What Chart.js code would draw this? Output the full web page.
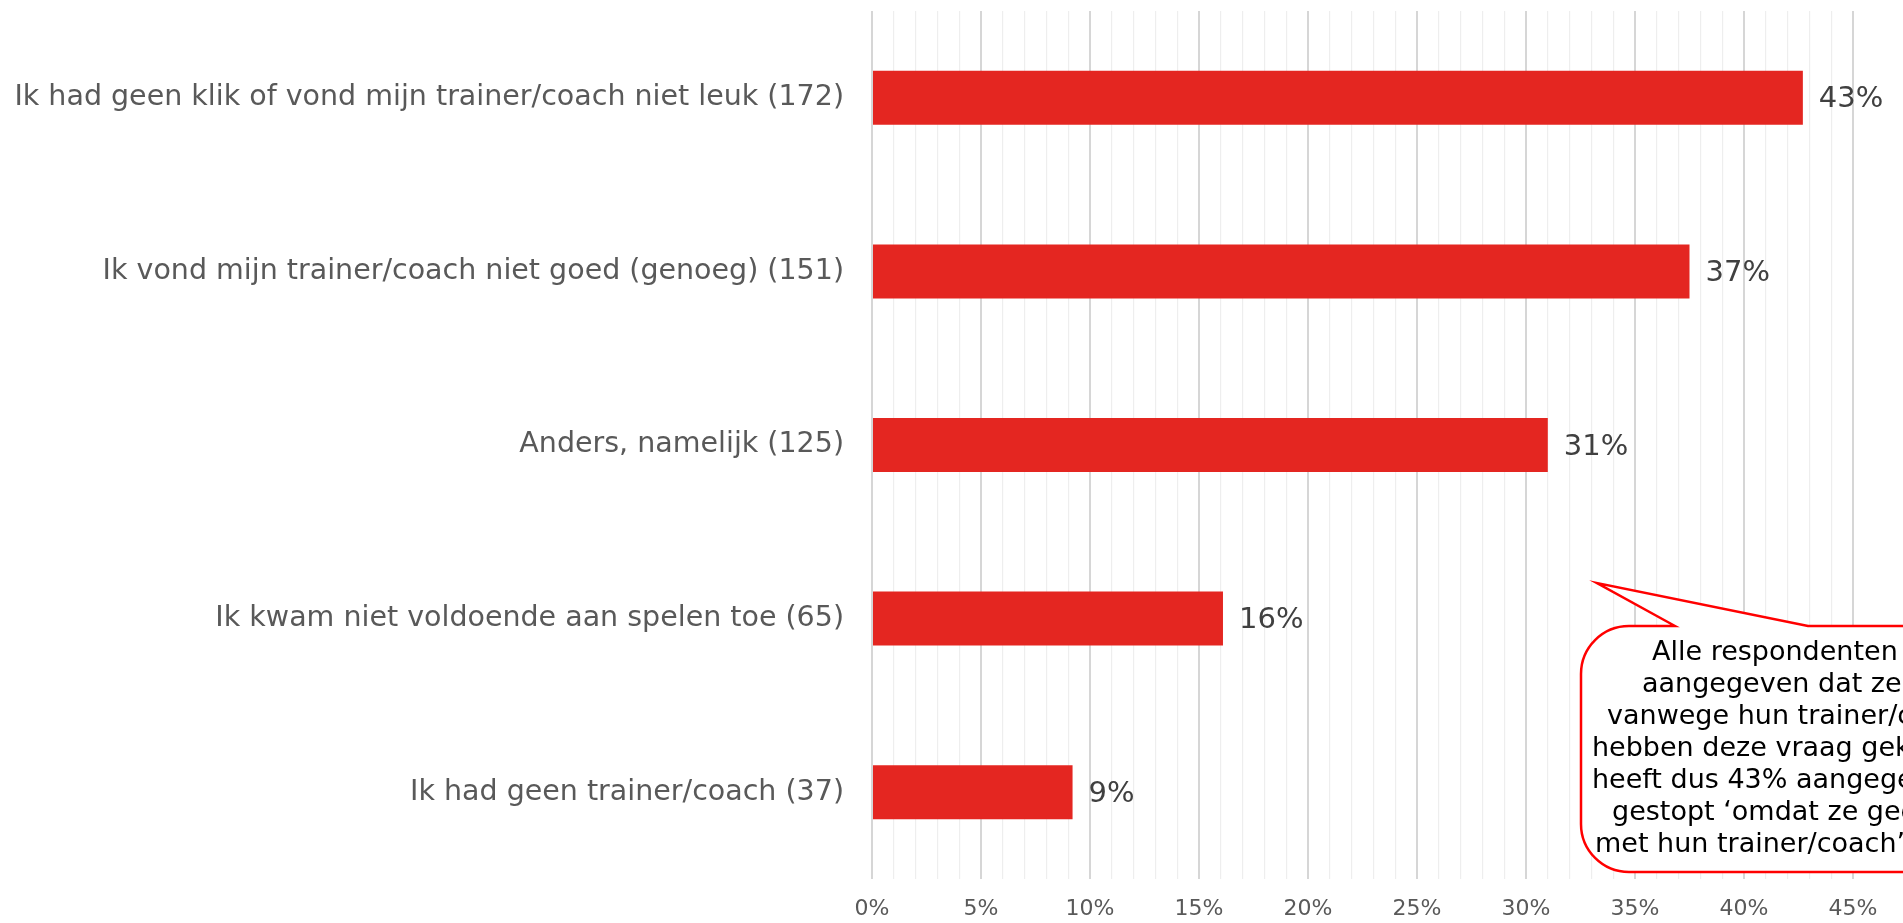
<!DOCTYPE html>
<html>
<head>
<meta charset="utf-8">
<title>Redenen om te stoppen</title>
<script src="https://cdn.jsdelivr.net/npm/chart.js"></script>
<style>
  html, body { margin: 0; padding: 0; background: #fff; }
  #wrap { width: 1903px; height: 923px; }
</style>
</head>
<body>
<div id="wrap"><canvas id="reasonsChart" width="1903" height="923"></canvas></div>
<script>
var categories = [
    "Ik had geen klik of vond mijn trainer/coach niet leuk (172)",
    "Ik vond mijn trainer/coach niet goed (genoeg) (151)",
    "Anders, namelijk (125)",
    "Ik kwam niet voldoende aan spelen toe (65)",
    "Ik had geen trainer/coach (37)"
];
var percentages = [42.7, 37.5, 31.0, 16.1, 9.2];
var valueLabels = ["43%", "37%", "31%", "16%", "9%"];
var xTickLabels = ["0%", "5%", "10%", "15%", "20%", "25%", "30%", "35%", "40%", "45%"];
var calloutLines = [
    "Alle respondenten die hebben",
    "aangegeven dat ze zijn gestopt",
    "vanwege hun trainer/coach",
    "hebben deze vraag gekregen. Er",
    "heeft dus 43% aangegeven te zijn",
    "gestopt \u2018omdat ze geen klik hadden",
    "met hun trainer/coach\u2019."
];

var FONT = '"DejaVu Sans", Verdana, sans-serif';

// percentage next to each bar
var valueLabelPlugin = {
    id: 'valueLabels',
    afterDatasetsDraw: function(chart) {
        var ctx = chart.ctx;
        var meta = chart.getDatasetMeta(0);
        ctx.save();
        ctx.font = '29px ' + FONT;
        ctx.fillStyle = '#404040';
        ctx.textAlign = 'left';
        ctx.textBaseline = 'middle';
        meta.data.forEach(function(bar, i) {
            ctx.fillText(valueLabels[i], bar.x + 16, bar.y + 2);
        });
        ctx.restore();
    }
};

// red speech bubble, runs off the right edge like the original
var calloutPlugin = {
    id: 'callout',
    afterDraw: function(chart) {
        var ctx = chart.ctx;
        var left = 1581, top = 626, bottom = 872, right = chart.width + 60, r = 48;
        ctx.save();
        ctx.beginPath();
        ctx.moveTo(1675, top);
        ctx.lineTo(1597, 583);
        ctx.lineTo(1808, top);
        ctx.lineTo(right, top);
        ctx.lineTo(right, bottom);
        ctx.lineTo(left + r, bottom);
        ctx.arcTo(left, bottom, left, bottom - r, r);
        ctx.lineTo(left, top + r);
        ctx.arcTo(left, top, left + r, top, r);
        ctx.closePath();
        ctx.fillStyle = '#ffffff';
        ctx.fill();
        ctx.lineWidth = 2.5;
        ctx.strokeStyle = '#ff0000';
        ctx.stroke();

        var offsets = [71, 61, 26, 11, 11, 31, 14];
        ctx.font = '27px ' + FONT;
        ctx.fillStyle = '#000000';
        ctx.textAlign = 'left';
        ctx.textBaseline = 'alphabetic';
        for (var i = 0; i < calloutLines.length; i++) {
            ctx.fillText(calloutLines[i], left + offsets[i], 660 + i * 32);
        }
        ctx.restore();
    }
};

var ctx = document.getElementById('reasonsChart');
var reasonsChart = new Chart(ctx, {
    type: 'bar',
    data: {
        labels: categories,
        datasets: [{
            data: percentages,
            backgroundColor: '#e42621',
            borderWidth: 0,
            categoryPercentage: 1.0,
            barPercentage: 0.311
        }]
    },
    options: {
        indexAxis: 'y',
        responsive: false,
        animation: false,
        layout: { padding: { top: 11, right: 50, left: 0, bottom: 0 } },
        plugins: {
            legend: { display: false },
            tooltip: { enabled: false }
        },
        scales: {
            x: {
                min: 0,
                max: 45,
                border: { display: false },
                grid: {
                    drawTicks: false,
                    color: function(c) {
                        return c.tick && c.tick.value % 5 === 0 ? '#d6d6d6' : '#eeeeee';
                    },
                    lineWidth: function(c) {
                        return c.tick && c.tick.value % 5 === 0 ? 2 : 1.2;
                    }
                },
                ticks: {
                    stepSize: 1,
                    autoSkip: false,
                    maxRotation: 0,
                    padding: 17,
                    color: '#595959',
                    font: { family: FONT, size: 22 },
                    callback: function(value) {
                        return value % 5 === 0 ? xTickLabels[value / 5] : '';
                    }
                },
                afterFit: function(scale) { scale.height = 44; }
            },
            y: {
                border: { display: false },
                grid: { display: false, drawTicks: false },
                ticks: {
                    padding: 28,
                    color: '#595959',
                    font: { family: FONT, size: 28.5 }
                },
                afterFit: function(scale) {
                    scale.width = 872;
                    scale.paddingTop = 0;   // labels sit on bars, no extra room needed
                    scale.paddingBottom = 0;
                }
            }
        }
    },
    plugins: [valueLabelPlugin, calloutPlugin]
});
</script>
</body>
</html>
